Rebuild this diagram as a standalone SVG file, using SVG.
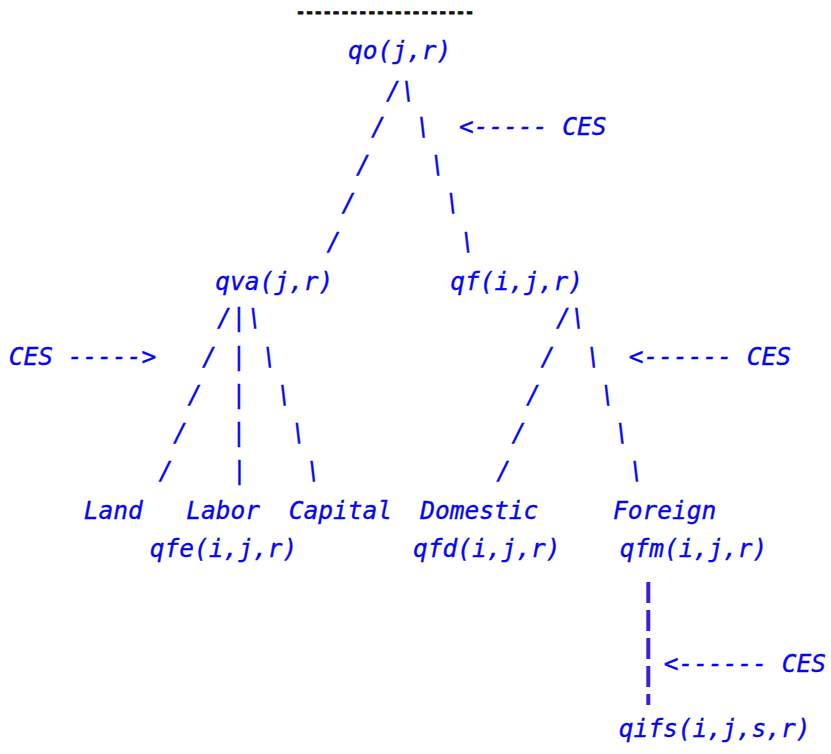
<svg xmlns="http://www.w3.org/2000/svg" width="831" height="754" viewBox="0 0 831 754">
  <style>
    .t, .s { font-family: "DejaVu Sans Mono", "Liberation Mono", monospace; font-size: 24.5px; font-style: italic; fill: #0505f2; stroke: #0505f2; stroke-width: 0.35px; }
    .s { text-anchor: middle; }
    .rule { font-family: "DejaVu Sans Mono", "Liberation Mono", monospace; font-size: 15px; font-weight: bold; fill: #111; stroke: #111; stroke-width: 0.9px; }
    .link { stroke: #3a22d8; stroke-width: 4; stroke-dasharray: 21 7; fill: none; }
  </style>
  <rect width="831" height="754" fill="#fff"/>

  <text class="rule" x="296" y="17" textLength="178" lengthAdjust="spacing">--------------------</text>

  <!-- nesting nodes -->
  <g id="n-qo"><text class="t" x="348" y="59">qo(j,r)</text></g>
  <g id="n-qva"><text class="t" x="215.3" y="289.5">qva(j,r)</text></g>
  <g id="n-qf"><text class="t" x="450.3" y="289.5">qf(i,j,r)</text></g>
  <g id="n-land"><text class="t" x="83.7" y="518.5">Land</text></g>
  <g id="n-labor"><text class="t" x="186.3" y="518.5">Labor</text></g>
  <g id="n-capital"><text class="t" x="288.7" y="518.5">Capital</text></g>
  <g id="n-domestic"><text class="t" x="420.3" y="518.5">Domestic</text></g>
  <g id="n-foreign"><text class="t" x="613" y="518.5">Foreign</text></g>
  <g id="n-qfe"><text class="t" x="149.7" y="556.5">qfe(i,j,r)</text></g>
  <g id="n-qfd"><text class="t" x="413" y="556.5">qfd(i,j,r)</text></g>
  <g id="n-qfm"><text class="t" x="619.7" y="556.5">qfm(i,j,r)</text></g>
  <g id="n-qifs"><text class="t" x="618.7" y="737">qifs(i,j,s,r)</text></g>

  <!-- branches -->
  <g id="connectors">
    <text class="s" x="393.3" y="98.5">/</text><text class="s" x="408.3" y="98.5">\</text>
    <text class="s" x="378.3" y="135">/</text><text class="s" x="423.3" y="135">\</text>
    <text class="s" x="363.3" y="173">/</text><text class="s" x="437.8" y="173">\</text>
    <text class="s" x="349" y="210.5">/</text><text class="s" x="453" y="210.5">\</text>
    <text class="s" x="334" y="249.7">/</text><text class="s" x="468" y="249.7">\</text>

    <text class="s" x="224.5" y="326">/</text><text class="s" x="238.8" y="326">|</text><text class="s" x="255" y="326">\</text>
    <text class="s" x="209.5" y="364.5">/</text><text class="s" x="238.8" y="364.5">|</text><text class="s" x="269.7" y="364.5">\</text>
    <text class="s" x="194.8" y="402.5">/</text><text class="s" x="238.8" y="402.5">|</text><text class="s" x="284.5" y="402.5">\</text>
    <text class="s" x="180.3" y="440.5">/</text><text class="s" x="238.8" y="440.5">|</text><text class="s" x="298.8" y="440.5">\</text>
    <text class="s" x="165.8" y="478.7">/</text><text class="s" x="239.5" y="478.7">|</text><text class="s" x="313.7" y="478.7">\</text>

    <text class="s" x="563.3" y="326">/</text><text class="s" x="578.3" y="326">\</text>
    <text class="s" x="547.8" y="364.5">/</text><text class="s" x="593.7" y="364.5">\</text>
    <text class="s" x="533.3" y="402.5">/</text><text class="s" x="607.8" y="402.5">\</text>
    <text class="s" x="518.8" y="440.5">/</text><text class="s" x="622.2" y="440.5">\</text>
    <text class="s" x="503.7" y="478.7">/</text><text class="s" x="636.7" y="478.7">\</text>

    <line class="link" x1="648.3" y1="582" x2="648.3" y2="705"/>
  </g>

  <!-- elasticity annotations -->
  <g id="ces-labels">
    <text class="t" x="459" y="135" xml:space="preserve">&lt;----- CES</text>
    <text class="t" x="8.7" y="364.5" xml:space="preserve">CES -----&gt;</text>
    <text class="t" x="628.7" y="364.5" xml:space="preserve">&lt;------ CES</text>
    <text class="t" x="663.7" y="671.5" xml:space="preserve">&lt;------ CES</text>
  </g>
</svg>
